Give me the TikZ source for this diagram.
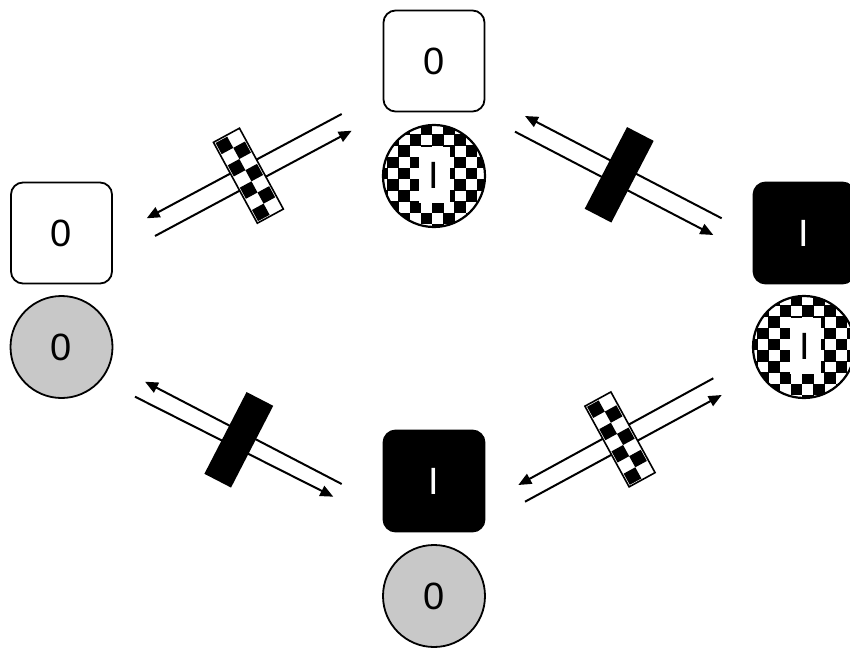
\documentclass[tikz,border=0pt]{standalone}
\usepackage{fontspec}
\setmainfont{Liberation Sans}
\usetikzlibrary{arrows.meta}
\definecolor{lgray}{RGB}{200,200,200}
\newcommand{\checkdisc}[2]{%
  \begin{scope}
    \clip (#1,#2) circle (51pt);
    \fill[white] (#1,#2) circle (51pt);
    \foreach \i in {-5,...,4}{\foreach \j in {-5,...,4}{%
      \pgfmathtruncatemacro\p{mod(\i+\j+20,2)}%
      \ifnum\p=0 \fill (#1-2+\i*11.2, #2+3+\j*11.2) rectangle ++(11.6,11.6);\fi
    }}
  \end{scope}}
\newcommand{\checkbar}[3]{%
  \begin{scope}[shift={(#1,#2)}, rotate=#3]
    \fill[white] (-46,-14.8) rectangle (46,14.8);
    \foreach \i in {0,...,6}{\foreach \j in {0,1}{%
      \pgfmathtruncatemacro\p{mod(\i+\j,2)}%
      \ifnum\p=1 \fill (-44.4+\i*12.7, -13.2+\j*13.2) rectangle ++(12.7,13.2);\fi
    }}
    \draw[line width=1.6pt] (-46,-14.8) rectangle (46,14.8);
  \end{scope}}
\newcommand{\blackbar}[3]{%
  \begin{scope}[shift={(#1,#2)}, rotate=#3]
    \fill (-46,-15) rectangle (46,15);
  \end{scope}}
\tikzset{
  digit/.style={font=\fontsize{38}{38}\selectfont},
  sq/.style={draw=black, line width=1.8pt, rounded corners=12pt, minimum size=101pt, inner sep=0pt, digit},
  whitesq/.style={sq, fill=white},
  blacksq/.style={sq, fill=black, text=white},
  graycirc/.style={circle, draw=black, line width=1.8pt, fill=lgray, minimum size=102pt, inner sep=0pt, digit},
  chkcirc/.style={circle, draw=black, line width=2.2pt, minimum size=102pt, inner sep=0pt},
  slot/.style={rectangle, fill=white, minimum width=31pt, minimum height=56pt, inner sep=0pt, digit},
  arr/.style={line width=2pt, -{Triangle[length=13pt,width=11pt]}},
}
\begin{document}
\begin{tikzpicture}[x=1pt,y=-1pt]
\useasboundingbox (0,0) rectangle (850,647);
% nodes
\node[whitesq] (tbox) at (434,61) {0};
\checkdisc{434}{176}
\node[chkcirc] (tcirc) at (434,176) {};
\node[slot] (tslot) at (434,175) {I};

\node[whitesq] (lbox) at (61.5,233) {0};
\node[graycirc] (lcirc) at (61.5,347) {0};

\node[blacksq] (rbox) at (804,233) {I};
\checkdisc{804}{347}
\node[chkcirc] (rcirc) at (804,347) {};
\node[slot] (rslot) at (805,346) {I};

\node[blacksq] (bbox) at (434,481) {I};
\node[graycirc] (bcirc) at (434,596) {0};

% arrow end points
\coordinate (a1s) at (341.7,114);   \coordinate (a1e) at (146.7,218.3);
\coordinate (a2s) at (155,236);     \coordinate (a2e) at (351.7,130.7);
\coordinate (b1s) at (721.7,218.3); \coordinate (b1e) at (525,116);
\coordinate (b2s) at (515,131.7);   \coordinate (b2e) at (713.3,235);
\coordinate (c1s) at (341.7,484);   \coordinate (c1e) at (145,381.7);
\coordinate (c2s) at (135,396.7);   \coordinate (c2e) at (333.3,496.7);
\coordinate (d1s) at (713.3,378.3); \coordinate (d1e) at (518.3,485);
\coordinate (d2s) at (525,501.7);   \coordinate (d2e) at (721.7,395);

\draw[arr] (a1s) -- (a1e);
\draw[arr] (a2s) -- (a2e);
\draw[arr] (b1s) -- (b1e);
\draw[arr] (b2s) -- (b2e);
\draw[arr] (c1s) -- (c1e);
\draw[arr] (c2s) -- (c2e);
\draw[arr] (d1s) -- (d1e);
\draw[arr] (d2s) -- (d2e);

% bars
\checkbar{248.4}{175.7}{-61.5}
\blackbar{619.2}{174.8}{62.6}
\blackbar{238.8}{439.8}{62.7}
\checkbar{620}{439.4}{-61.3}
\end{tikzpicture}
\end{document}
